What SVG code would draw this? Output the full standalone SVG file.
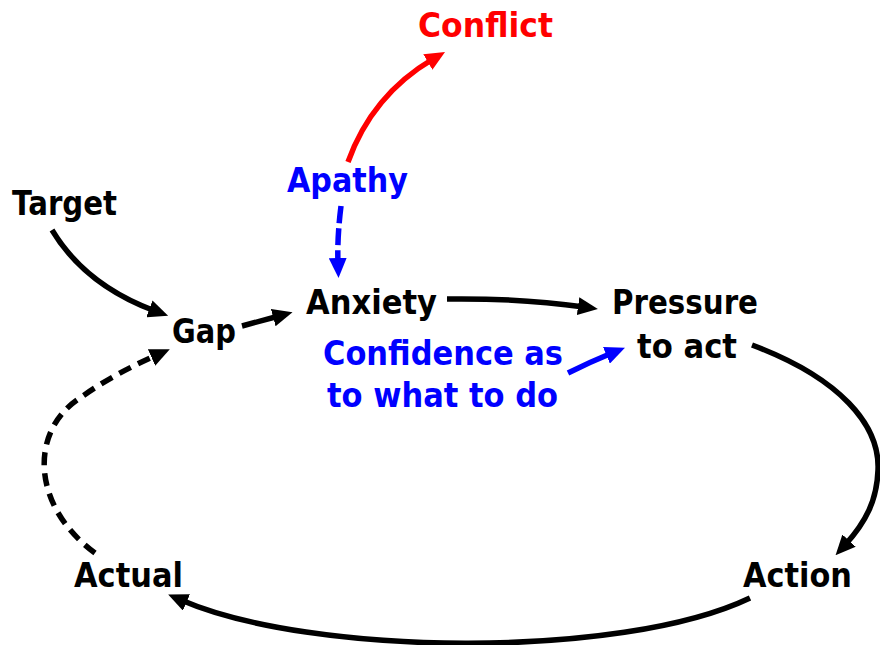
<svg xmlns="http://www.w3.org/2000/svg" width="880" height="645" viewBox="0 0 880 645">
  <style>
    text { font-family: "DejaVu Sans", Verdana, sans-serif; font-weight: bold; font-size: 34px; }
    .k { fill: #000000; }
    .b { fill: #0000ff; }
    .r { fill: #ff0000; }
    .link { fill: none; stroke-width: 5.5; stroke-linecap: butt; }
    .sk { stroke: #000000; }
    .sb { stroke: #0000ff; }
    .sr { stroke: #ff0000; }
    .dash { stroke-dasharray: 13 8; }
  </style>
  <defs>
    <marker id="ah-k" viewBox="0 0 20 18" markerWidth="20" markerHeight="18" refX="6" refY="9" orient="auto" markerUnits="userSpaceOnUse">
      <path d="M0,0 L20,9 L0,18 z" fill="#000000"/>
    </marker>
    <marker id="ah-b" viewBox="0 0 20 18" markerWidth="20" markerHeight="18" refX="6" refY="9" orient="auto" markerUnits="userSpaceOnUse">
      <path d="M0,0 L20,9 L0,18 z" fill="#0000ff"/>
    </marker>
    <marker id="ah-r" viewBox="0 0 20 18" markerWidth="20" markerHeight="18" refX="6" refY="9" orient="auto" markerUnits="userSpaceOnUse">
      <path d="M0,0 L20,9 L0,18 z" fill="#ff0000"/>
    </marker>
  </defs>

  <g id="connectors">
    <path class="link sr" d="M348,162 Q372,95 433,59" marker-end="url(#ah-r)"/>
    <path class="link sb" d="M341,206 Q337,238 338,264" stroke-width="6.5" stroke-dasharray="17 5" marker-end="url(#ah-b)"/>
    <path class="link sk" d="M52,230 Q85,285 155,311" marker-end="url(#ah-k)"/>
    <path class="link sk" d="M242,326 L279,316" marker-end="url(#ah-k)"/>
    <path class="link sk" d="M447,299 Q520,298 584,307" marker-end="url(#ah-k)"/>
    <path class="link sb" d="M568,373 Q590,362 612,353" marker-end="url(#ah-b)"/>
    <path class="link sk" d="M752,345 C840,378 880,425 878,470 C877,500 866,522 845,545" marker-end="url(#ah-k)"/>
    <path class="link sk" d="M750,598 C620,660 310,656 181,600" marker-end="url(#ah-k)"/>
    <path class="link sk dash" d="M95,553 C30,505 30,430 80,398 C105,380 130,367 157,355" marker-end="url(#ah-k)"/>
  </g>

  <g id="conflict"><text class="r" x="418" y="37" textLength="135" lengthAdjust="spacingAndGlyphs">Conflict</text></g>
  <g id="apathy"><text class="b" x="287" y="192" textLength="121" lengthAdjust="spacingAndGlyphs">Apathy</text></g>
  <g id="target"><text class="k" x="12" y="215" textLength="105" lengthAdjust="spacingAndGlyphs">Target</text></g>
  <g id="gap"><text class="k" x="172" y="343" textLength="64" lengthAdjust="spacingAndGlyphs">Gap</text></g>
  <g id="anxiety"><text class="k" x="306" y="314" textLength="131" lengthAdjust="spacingAndGlyphs">Anxiety</text></g>
  <g id="pressure">
    <text class="k" x="612" y="314" textLength="146" lengthAdjust="spacingAndGlyphs">Pressure</text>
    <text class="k" x="637" y="358" textLength="100" lengthAdjust="spacingAndGlyphs">to act</text>
  </g>
  <g id="confidence">
    <text class="b" x="323" y="365" textLength="240" lengthAdjust="spacingAndGlyphs">Confidence as</text>
    <text class="b" x="327" y="407" textLength="231" lengthAdjust="spacingAndGlyphs">to what to do</text>
  </g>
  <g id="actual"><text class="k" x="74" y="587" textLength="109" lengthAdjust="spacingAndGlyphs">Actual</text></g>
  <g id="action"><text class="k" x="743" y="587" textLength="109" lengthAdjust="spacingAndGlyphs">Action</text></g>
</svg>
